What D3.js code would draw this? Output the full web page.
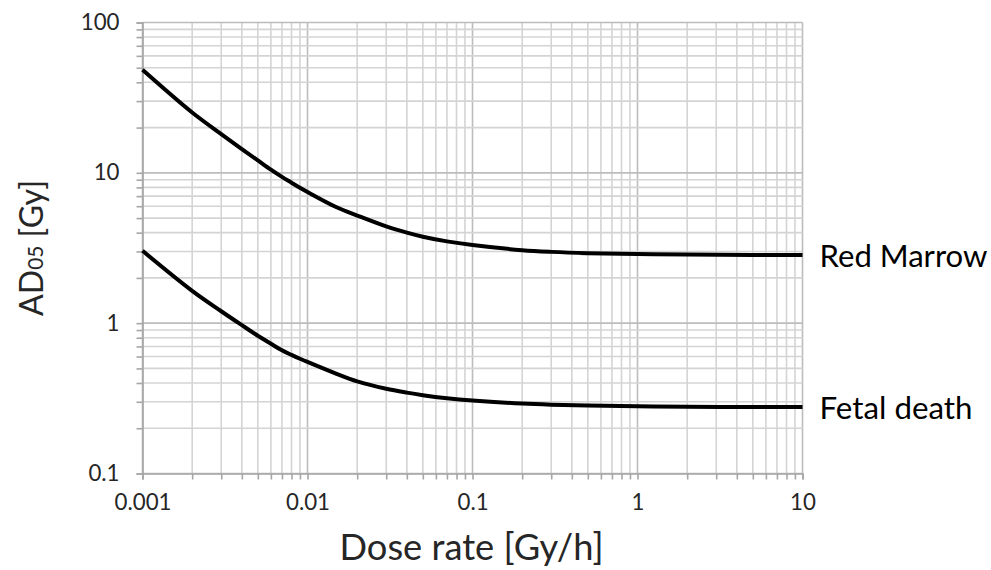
<!DOCTYPE html>
<html>
<head>
<meta charset="utf-8">
<script src="https://cdn.jsdelivr.net/npm/d3@7"></script>
<style>
  html, body { margin: 0; padding: 0; background: #ffffff; }
  svg { display: block; font-family: Lato, "Open Sans", sans-serif; }
</style>
</head>
<body>
<svg id="chart" width="991" height="570"></svg>
<script>
// ---- data ----
const doseRate = [0.001, 0.002, 0.003, 0.004, 0.005, 0.006, 0.007, 0.008, 0.009, 0.01,
                  0.015, 0.02, 0.03, 0.04, 0.05, 0.07, 0.1, 0.2, 0.3, 0.5, 1, 2, 5, 10];
const redMarrow = [48.5, 25.2, 18.1, 14.4, 12.1, 10.5, 9.4, 8.6, 7.95, 7.45,
                   5.9, 5.2, 4.4, 4.0, 3.76, 3.5, 3.31, 3.06, 2.98, 2.92, 2.88, 2.86, 2.845, 2.84];
const fetalDeath = [3.03, 1.64, 1.20, 0.97, 0.825, 0.73, 0.66, 0.615, 0.58, 0.552,
                    0.46, 0.41, 0.366, 0.345, 0.332, 0.317, 0.306, 0.292, 0.287, 0.283, 0.280, 0.278, 0.277, 0.277];
const seriesNames = ["Red Marrow", "Fetal death"];
const xTickValues = [0.001, 0.01, 0.1, 1, 10];
const xTickLabels = ["0.001", "0.01", "0.1", "1", "10"];
const yTickValues = [0.1, 1, 10, 100];
const yTickLabels = ["0.1", "1", "10", "100"];
const xTitle = "Dose rate [Gy/h]";

// ---- layout ----
const svg = d3.select("#chart");
const W = 991, H = 570;
const plot = { left: 142.5, right: 802.5, top: 22.5, bottom: 473.5 };

svg.append("rect").attr("width", W).attr("height", H).attr("fill", "#ffffff");

const x = d3.scaleLog().domain([0.001, 10]).range([plot.left, plot.right]);
const y = d3.scaleLog().domain([0.1, 100]).range([plot.bottom, plot.top]);

function logTicks(lo, hi) {
  const out = [];
  for (let e = Math.round(Math.log10(lo)); e < Math.round(Math.log10(hi)); e++) {
    for (let m = 1; m <= 9; m++) out.push(+(m * Math.pow(10, e)).toPrecision(6));
  }
  out.push(hi);
  return out;
}
const xAll = logTicks(0.001, 10);
const yAll = logTicks(0.1, 100);
const isMajor = v => Math.abs(Math.log10(v) - Math.round(Math.log10(v))) < 1e-9;

// gridlines
const grid = svg.append("g");
grid.selectAll("line.vx").data(xAll).join("line")
  .attr("x1", d => x(d)).attr("x2", d => x(d))
  .attr("y1", plot.top).attr("y2", plot.bottom)
  .attr("stroke", d => isMajor(d) ? "#bcbcbc" : "#d4d4d4")
  .attr("stroke-width", 1.6);
grid.selectAll("line.hy").data(yAll).join("line")
  .attr("y1", d => y(d)).attr("y2", d => y(d))
  .attr("x1", plot.left).attr("x2", plot.right)
  .attr("stroke", d => isMajor(d) ? "#bcbcbc" : "#d4d4d4")
  .attr("stroke-width", 1.6);

function fitWidth(sel, target) {
  const len = sel.node().getComputedTextLength();
  const fs = parseFloat(sel.style("font-size"));
  const size = fs * target / len;
  sel.style("font-size", size + "px");
  return size;
}

// tick label size: "0.001" should span ~56px like the reference
const probe = svg.append("text").style("font-size", "20px").text("0.001");
const tickFont = fitWidth(probe, 57);
probe.remove();

// axes
const xLabelMap = new Map(xTickValues.map((v, i) => [v, xTickLabels[i]]));
const yLabelMap = new Map(yTickValues.map((v, i) => [v, yTickLabels[i]]));

const xAxis = d3.axisBottom(x).tickValues(xAll).tickSize(6).tickPadding(15)
  .tickFormat(d => xLabelMap.get(d) || "");
const yAxis = d3.axisLeft(y).tickValues(yAll).tickSize(6).tickPadding(17)
  .tickFormat(d => yLabelMap.get(d) || "");

const gx = svg.append("g").attr("transform", `translate(0,${plot.bottom})`).call(xAxis);
const gy = svg.append("g").attr("transform", `translate(${plot.left},0)`).call(yAxis);
[gx, gy].forEach(g => {
  g.select(".domain").attr("stroke", "#a6a6a6").attr("stroke-width", 1.6);
  g.selectAll(".tick line").attr("stroke", "#a6a6a6").attr("stroke-width", 1.6);
  g.selectAll(".tick text").attr("fill", "#262626")
    .style("font-family", "Lato, sans-serif").style("font-size", tickFont + "px");
});

// curves
const line = d3.line()
  .x(d => x(d[0])).y(d => y(d[1]))
  .curve(d3.curveCatmullRom.alpha(0.5));
const series = [redMarrow, fetalDeath];
series.forEach((vals, i) => {
  const pts = doseRate.map((d, j) => [d, vals[j]]);
  svg.append("path").datum(pts)
    .attr("d", line)
    .attr("fill", "none").attr("stroke", "#000000")
    .attr("stroke-width", 4).attr("stroke-linejoin", "round");
});

// series labels at the right end of each curve
const labelTargets = [168, 153];
series.forEach((vals, i) => {
  const t = svg.append("text")
    .attr("x", plot.right + 17)
    .attr("y", y(vals[vals.length - 1]))
    .attr("dominant-baseline", "central")
    .attr("fill", "#000000")
    .style("font-size", "30px")
    .text(seriesNames[i]);
  fitWidth(t, labelTargets[i]);
});

// x title
const xt = svg.append("text")
  .attr("x", (plot.left + plot.right) / 2 - 1)
  .attr("y", 546)
  .attr("text-anchor", "middle")
  .attr("dominant-baseline", "central")
  .attr("fill", "#262626")
  .style("font-size", "32px")
  .text(xTitle);
fitWidth(xt, 264);

// y title with subscript
const yt = svg.append("text")
  .attr("transform", `translate(30,${(plot.top + plot.bottom) / 2}) rotate(-90)`)
  .attr("text-anchor", "middle")
  .attr("dominant-baseline", "central")
  .attr("fill", "#262626")
  .style("font-size", "32px");
yt.append("tspan").text("AD");
yt.append("tspan").attr("baseline-shift", "-22%").style("font-size", "65%").text("05");
yt.append("tspan").text(" [Gy]");
fitWidth(yt, 136);
</script>
</body>
</html>
